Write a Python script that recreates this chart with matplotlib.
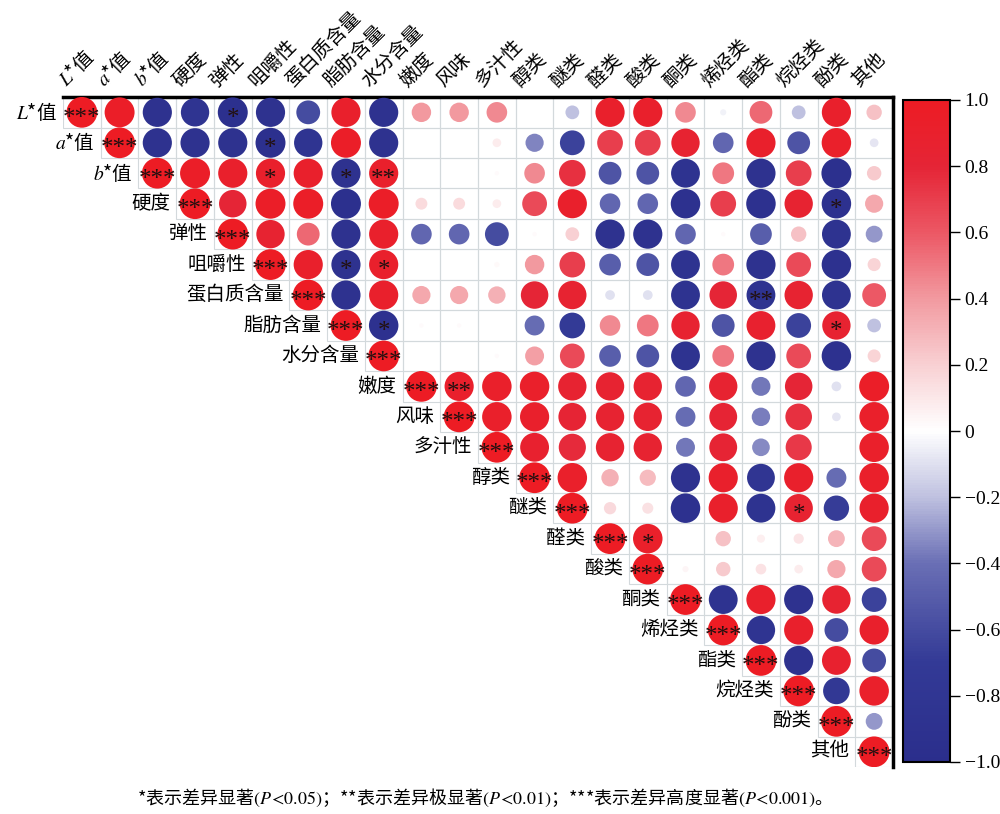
import numpy as np
import matplotlib
matplotlib.use('Agg')
import matplotlib.pyplot as plt
from matplotlib.colors import LinearSegmentedColormap, Normalize
from matplotlib.patches import Rectangle
import matplotlib.colorbar as mcolorbar

# 拉丁字符用衬线体, 中文回退到 Noto Sans CJK
plt.rcParams['font.family'] = ['Liberation Serif', 'Noto Sans CJK SC']
plt.rcParams['mathtext.fontset'] = 'stix'
CJK = ['Noto Sans CJK SC']  # 含 mathtext 的文字不能回退, 直接用中文字体

# 变量名 (L*, a*, b* 用斜体)
labels = ['$L$*值', '$a$*值', '$b$*值', '硬度', '弹性', '咀嚼性', '蛋白质含量',
          '脂肪含量', '水分含量', '嫩度', '风味', '多汁性', '醇类', '醚类', '醛类',
          '酸类', '酮类', '烯烃类', '酯类', '烷烃类', '酚类', '其他']

# 上三角相关系数, 第 i 行给出 j > i 的值 (对角线 = 1)
upper = [
    [0.95, -0.9, -0.85, -0.95, -0.9, -0.6, 0.9, -0.9, 0.4, 0.4, 0.45, 0.0, -0.2, 0.9, 0.9, 0.45, -0.04, 0.55, -0.2, 0.9, 0.25],
    [-0.9, -0.9, -0.9, -0.95, -0.85, 0.95, -0.9, 0.0, 0.0, 0.08, -0.35, -0.65, 0.7, 0.7, 0.85, -0.45, 0.9, -0.55, 0.92, -0.08],
    [0.95, 0.9, 0.9, 0.9, -0.9, 0.9, 0.0, 0.0, 0.02, 0.45, 0.75, -0.55, -0.55, -0.88, 0.5, -0.9, 0.7, -0.95, 0.22],
    [0.8, 0.95, 0.95, -0.95, 0.95, 0.15, 0.15, 0.08, 0.65, 0.9, -0.45, -0.45, -0.92, 0.7, -0.92, 0.85, -0.92, 0.35],
    [0.85, 0.55, -0.9, 0.9, -0.45, -0.45, -0.6, 0.02, 0.2, -0.9, -0.9, -0.45, 0.02, -0.5, 0.25, -0.88, -0.3],
    [0.9, -0.9, 0.9, 0.0, 0.0, 0.03, 0.4, 0.7, -0.5, -0.55, -0.88, 0.5, -0.9, 0.65, -0.92, 0.18],
    [-0.9, 0.9, 0.35, 0.35, 0.32, 0.8, 0.85, -0.1, -0.1, -0.88, 0.8, -0.88, 0.85, -0.88, 0.6],
    [-0.92, 0.02, 0.02, 0.0, -0.42, -0.7, 0.45, 0.5, 0.85, -0.55, 0.88, -0.65, 0.85, -0.2],
    [0.0, 0.0, 0.02, 0.38, 0.65, -0.5, -0.55, -0.88, 0.5, -0.9, 0.65, -0.92, 0.18],
    [0.9, 0.92, 0.92, 0.85, 0.85, 0.85, -0.45, 0.85, -0.38, 0.8, -0.1, 0.95],
    [0.92, 0.9, 0.82, 0.85, 0.85, -0.42, 0.82, -0.36, 0.75, -0.08, 0.92],
    [0.88, 0.78, 0.85, 0.85, -0.38, 0.82, -0.33, 0.72, 0.0, 0.92],
    [0.92, 0.32, 0.28, -0.9, 0.9, -0.82, 0.9, -0.42, 0.92],
    [0.16, 0.13, -0.92, 0.9, -0.88, 0.85, -0.68, 0.9],
    [0.92, 0.0, 0.25, 0.07, 0.11, 0.3, 0.65],
    [0.04, 0.22, 0.12, 0.08, 0.35, 0.65],
    [-0.88, 0.9, -0.9, 0.85, -0.65],
    [-0.85, 0.9, -0.6, 0.9],
    [-0.9, 0.88, -0.6],
    [-0.75, 0.92],
    [-0.3],
    [],
]

# 显著性标记 (非对角线)
sig_row = [0, 1, 2, 2, 2, 3, 5, 5, 6, 7, 7, 9, 13, 14]
sig_col = [4, 5, 5, 7, 8, 20, 7, 8, 18, 8, 20, 10, 19, 15]
sig_mark = ['*', '*', '*', '*', '**', '*', '*', '*', '**', '*', '*', '**', '*', '*']

cbar_ticks = [1.0, 0.8, 0.6, 0.4, 0.2, 0, -0.2, -0.4, -0.6, -0.8, -1.0]
cbar_labels = ['1.0', '0.8', '0.6', '0.4', '0.2', '0', '−0.2', '−0.4', '−0.6', '−0.8', '−1.0']

note = (r'*表示差异显著$(P\!<\!0.05)$；**表示差异极显著$(P\!<\!0.01)$；'
        r'***表示差异高度显著$(P\!<\!0.001)$。')

cmap = LinearSegmentedColormap.from_list('corr', [
    (0.0, '#2B2E8C'), (0.15, '#333A96'), (0.3, '#6A6FB5'), (0.4, '#BFC1E0'),
    (0.5, '#FFFFFF'), (0.6, '#F8D0D3'), (0.7, '#F29AA0'), (0.8, '#EC5865'),
    (0.9, '#E52536'), (1.0, '#ED1C24')])

n = len(labels)
mat = np.full((n, n), np.nan)
for i in range(n):
    mat[i, i] = 1.0
    mat[i, i + 1:] = upper[i]

fig = plt.figure(figsize=(10, 8.14), dpi=100)
ax = fig.add_axes([0.063, 0.0577, 0.83, 0.823])
ax.set_xlim(-0.5, n - 0.5)
ax.set_ylim(n - 0.5, -0.5)
ax.set_xticks([])
ax.set_yticks([])
for side in ['left', 'bottom']:
    ax.spines[side].set_visible(False)
for side in ['top', 'right']:
    ax.spines[side].set_linewidth(2.5)

# 单元格边框
for i in range(n):
    for j in range(i, n):
        ax.add_patch(Rectangle((j - 0.5, i - 0.5), 1, 1, fill=False,
                               edgecolor='#d3d9dc', lw=0.8, zorder=1))

ii, jj = np.where(~np.isnan(mat))
vals = mat[ii, jj]
ax.scatter(jj, ii, s=490 * np.abs(vals), c=vals, cmap=cmap, vmin=-1, vmax=1,
           edgecolors='none', zorder=3)

def star(x, y, mark):
    ax.annotate(mark, (x, y), xytext=(0, -9), textcoords='offset points',
                ha='center', va='baseline', fontsize=18, color='#221010',
                zorder=4)

for i in range(n):
    star(i, i, '***')
for r, c, m in zip(sig_row, sig_col, sig_mark):
    star(c, r, m)

# 行标签 (对角线左侧) 和列标签 (顶部 45°)
for i, lab in enumerate(labels):
    fam = CJK if '$' in lab else None
    ax.text(i - 0.66, i, lab, ha='right', va='center', fontsize=14,
            fontweight='light', family=fam)
    ax.text(i - 0.32, -0.72, lab, rotation=45, rotation_mode='anchor',
            ha='left', va='bottom', fontsize=14, fontweight='light', family=fam)

cax = fig.add_axes([0.903, 1 - 762 / 814, 0.047, 662 / 814])
cb = mcolorbar.ColorbarBase(cax, cmap=cmap, norm=Normalize(-1, 1))
cb.set_ticks(cbar_ticks)
cb.set_ticklabels(cbar_labels)
cb.outline.set_linewidth(1.5)
cax.tick_params(length=7, width=1, labelsize=14)

fig.text(0.48, 1 - 798 / 814, note, ha='center', va='center', fontsize=13,
         fontweight='light', family=CJK)

fig.savefig('out.png', dpi=100)
